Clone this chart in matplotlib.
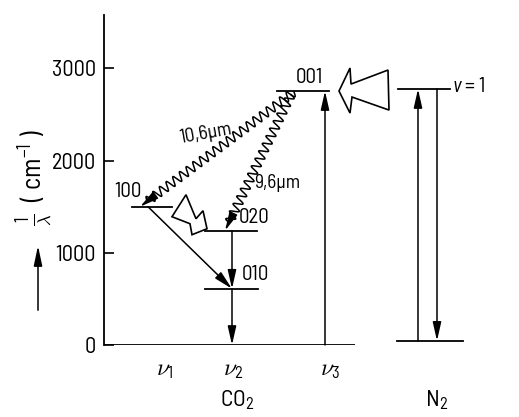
import numpy as np
import matplotlib
matplotlib.use("Agg")
import matplotlib.pyplot as plt
from matplotlib.patches import Polygon, FancyArrowPatch

plt.rcParams['font.family'] = ['Barlow Semi Condensed', 'DejaVu Sans']
plt.rcParams['mathtext.fontset'] = 'custom'
plt.rcParams['mathtext.rm'] = 'Barlow Semi Condensed'
plt.rcParams['mathtext.it'] = 'Barlow Semi Condensed:italic'
plt.rcParams['mathtext.bf'] = 'Barlow Semi Condensed:bold'
plt.rcParams['mathtext.fallback'] = 'cm'

#################
#DATA SECTION
#################
#energy levels in 1/lambda (cm^-1), with the horizontal extent of each bar
levelNames = ["100", "020", "010", "001", "v=1", "N2 ground"]
levelEnergies = [1500, 1240, 610, 2755, 2777, 45]
levelXStart = [132, 205, 205, 277, 398, 397]
levelXEnd = [172, 257, 258, 329, 450, 463]

#vertical / straight transitions: (x0, E0, x1, E1), arrow head at the end point
straightX0 = [232, 232, 325, 418, 437, 148]
straightE0 = [1240, 610, 0, 45, 2777, 1500]
straightX1 = [232, 232, 325, 418, 437, 232]
straightE1 = [610, 0, 2755, 2777, 45, 610]

#laser transitions (wavy)
laserNames = ["10,6\u03bcm", "9,6\u03bcm"]
laserX0 = [294, 291]
laserE0 = [2745, 2715]
laserX1 = [140, 225]
laserE1 = [1500, 1240]
laserWaves = [22, 17]

yTicks = [0, 1000, 2000, 3000]
modeLabels = [r"$\nu_1$", r"$\nu_2$", r"$\nu_3$"]
modeX = [165, 233, 330]

#################
#HELPER METHODS SECTION
#################
def arrowTo(ax, x0, y0, x1, y1):
	ax.annotate("", xy=(x1, y1), xytext=(x0, y0),
		arrowprops=dict(arrowstyle="-|>,head_length=0.75,head_width=0.17", mutation_scale=15,
		color="black", lw=1.1, shrinkA=0, shrinkB=0))

#draw a sine wave along a line in display space, then a short straight bit with the arrow head
def wavyArrow(ax, x0, y0, x1, y1, nWaves, amp=4.5):
	d0 = ax.transData.transform((x0, y0))
	d1 = ax.transData.transform((x1, y1))
	vec = d1 - d0
	length = np.hypot(vec[0], vec[1])
	u = vec / length
	nrm = np.array([-u[1], u[0]])
	tailPx = 9.0
	t = np.linspace(0, 1, 600)
	waveLen = length - tailPx
	pts = d0 + np.outer(t * waveLen, u) + np.outer(amp * np.sin(2 * np.pi * nWaves * t), nrm)
	back = ax.transData.inverted().transform(pts)
	ax.plot(back[:, 0], back[:, 1], color="black", lw=1.1)
	endWave = ax.transData.inverted().transform(d0 + waveLen * u)
	arrowTo(ax, endWave[0], endWave[1], x1, y1)

#hollow arrow drawn in pixel offsets (image y downwards) around an anchor point
def hollowShape(ax, anchorX, anchorE, offsets):
	a = ax.transData.transform((anchorX, anchorE))
	pts = [(a[0] + dx, a[1] - dy) for dx, dy in offsets]
	ax.add_patch(Polygon(pts, closed=True, fill=False, edgecolor="black", lw=1.2,
		transform=None, clip_on=False))

#################
#MAKE THE PLOT
#################
fig = plt.figure(figsize=(5.19, 4.17), dpi=100)
ax = fig.add_axes([104/519, 72/417, 415/519, 330/417])
ax.set_xlim(104, 519)
ax.set_ylim(0, 3580)
for side in ["top", "right", "bottom"]:
	ax.spines[side].set_visible(False)
ax.spines["left"].set_linewidth(1.3)
ax.set_xticks([])
ax.set_yticks(yTicks)
ax.tick_params(axis="y", direction="in", length=7, width=1.2, pad=6, labelsize=16)

#baseline of CO2
ax.plot([104, 355], [0, 0], color="black", lw=1.3, solid_capstyle="butt")

for i in range(len(levelNames)):
	ax.plot([levelXStart[i], levelXEnd[i]], [levelEnergies[i], levelEnergies[i]], color="black", lw=1.3)

for i in range(len(straightX0)):
	arrowTo(ax, straightX0[i], straightE0[i], straightX1[i], straightE1[i])

for i in range(len(laserNames)):
	wavyArrow(ax, laserX0[i], laserE0[i], laserX1[i], laserE1[i], laserWaves[i])

#level labels
ax.text(128, 1560, "100", fontsize=15, ha="center", va="bottom")
ax.text(239, 1280, "020", fontsize=15, ha="left", va="bottom")
ax.text(242, 660, "010", fontsize=15, ha="left", va="bottom")
ax.text(309, 2800, "001", fontsize=15, ha="center", va="bottom")
ax.text(452, 2800, r"$v$ = 1", fontsize=15, ha="left", va="center")
ax.text(206, 2290, laserNames[0], fontsize=14, ha="center", va="center", rotation=10)
ax.text(277, 1760, laserNames[1], fontsize=14, ha="center", va="center")

#hollow collision arrows
hollowShape(ax, 339, 2755, [(0, 0), (11, -23), (12, -7), (49, -21), (50, 19), (13, 6), (11, 22)])
hollowShape(ax, 186, 1500, [(0, -12), (-14, 10), (4, 17), (6, 28), (21, 22), (17, 4), (10, 12)])

#mode labels under the axis
for i in range(len(modeLabels)):
	ax.text(modeX[i], -160, modeLabels[i], fontsize=17, ha="center", va="top")
ax.text(237, -470, "CO$_2$", fontsize=17, ha="center", va="top")
ax.text(437, -470, "N$_2$", fontsize=17, ha="center", va="top")

#y axis label with arrow
fig.text(35/519, 1 - 178/417, r"$\frac{1}{\lambda}$  ( cm$^{-1}$ )", rotation=90, fontsize=19, ha="center", va="center")
fig.patches.append(FancyArrowPatch((38/519, 1 - 313/417), (38/519, 1 - 243/417),
	transform=fig.transFigure, arrowstyle="-|>,head_length=0.8,head_width=0.17", mutation_scale=15,
	color="black", lw=1.1))

fig.savefig("out.png", dpi=100)
